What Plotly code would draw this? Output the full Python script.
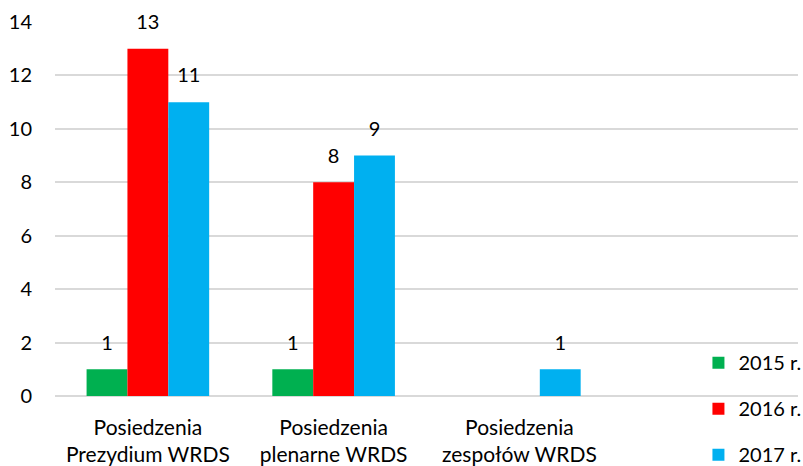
import plotly.graph_objects as go

categories = ["Posiedzenia<br>Prezydium WRDS", "Posiedzenia<br>plenarne WRDS", "Posiedzenia<br>zespołów WRDS"]
series_names = ["2015 r.", "2016 r.", "2017 r."]
v2015 = [1, 1, None]
v2016 = [13, 8, None]
v2017 = [11, 9, 1]
colors = ["#00B050", "#FF0000", "#00B0F0"]

FONT = "Lato"
FS = 20
GAP = 0.34
fig = go.Figure()
for i, (name, vals) in enumerate(zip(series_names, [v2015, v2016, v2017])):
    fig.add_trace(go.Bar(
        x=categories, y=vals, name=name,
        marker=dict(color=colors[i], line=dict(width=0)),
        offsetgroup=str(i), legendgroup=name,
    ))
for i, (name, vals) in enumerate(zip(series_names, [v2015, v2016, v2017])):
    fig.add_trace(go.Scatter(
        x=categories, y=vals, mode="text+markers", showlegend=False,
        marker=dict(size=22, opacity=0),
        text=[("" if v is None else str(v)) for v in vals],
        textposition="top center", cliponaxis=False,
        textfont=dict(family=FONT, size=FS, color="#000000"),
        offsetgroup=str(i), hoverinfo="skip",
    ))

fig.update_layout(
    width=803, height=466,
    margin=dict(l=55, r=5, t=22, b=70, autoexpand=False),
    paper_bgcolor="white", plot_bgcolor="white",
    barmode="group", bargap=GAP, bargroupgap=0,
    scattermode="group", scattergap=GAP,
    font=dict(family=FONT, size=FS, color="#000000"),
    showlegend=True,
    legend=dict(x=0.866, xanchor="left", y=-0.209, yanchor="bottom",
                traceorder="grouped", tracegroupgap=17,
                font=dict(family=FONT, size=FS), bgcolor="rgba(0,0,0,0)",
                itemwidth=30),
    xaxis=dict(range=[-0.5, 3.5], showgrid=False, zeroline=False, showline=False,
               ticks="", ticklabelstandoff=17, automargin=False,
               tickfont=dict(family=FONT, size=21)),
    yaxis=dict(range=[0, 14], dtick=2, showgrid=True, gridcolor="#D9D9D9", gridwidth=1.5,
               zeroline=True, zerolinecolor="#D9D9D9", zerolinewidth=1.5, showline=False,
               ticks="", ticklabelstandoff=22, automargin=False,
               tickfont=dict(family=FONT, size=FS)),
)
fig.write_html("out.html", post_script="document.body.style.margin='0';",
               config={"displayModeBar": False})
